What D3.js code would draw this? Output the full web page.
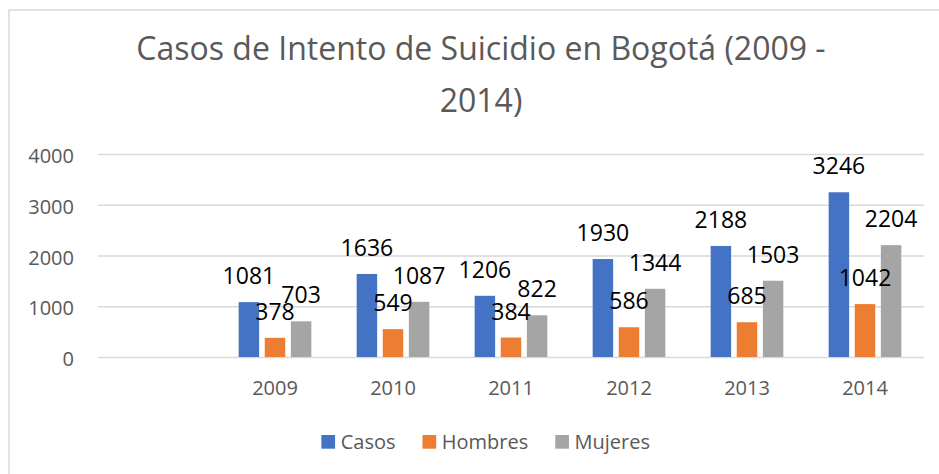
<!DOCTYPE html>
<html>
<head>
<meta charset="utf-8">
<script src="https://cdn.jsdelivr.net/npm/d3@7"></script>
<style>
  body { margin: 0; background: #fff; }
  text { font-family: "Open Sans", sans-serif; }
</style>
</head>
<body>
<div id="chart"></div>
<script>
// data
const years = ["", "2009", "2010", "2011", "2012", "2013", "2014"];
const seriesNames = ["Casos", "Hombres", "Mujeres"];
const casos = [null, 1081, 1636, 1206, 1930, 2188, 3246];
const hombres = [null, 378, 549, 384, 586, 685, 1042];
const mujeres = [null, 703, 1087, 822, 1344, 1503, 2204];
const yTicks = [0, 1000, 2000, 3000, 4000];
const titleLines = ["Casos de Intento de Suicidio en Bogotá (2009 -", "2014)"];

const colors = ["#4472C4", "#ED7D31", "#A5A5A5"];
const seriesValues = [casos, hombres, mujeres];

const width = 939, height = 474;
const plot = { left: 98, right: 924, top: 154, bottom: 357 };

const svg = d3.select("#chart").append("svg")
  .attr("width", width)
  .attr("height", height);

svg.append("rect")
  .attr("width", width).attr("height", height)
  .attr("fill", "#fff");

// chart frame (right and bottom edges fall outside the crop)
svg.append("rect")
  .attr("x", 9).attr("y", 10)
  .attr("width", 980).attr("height", 520)
  .attr("fill", "none")
  .attr("stroke", "#d9d9d9")
  .attr("stroke-width", 1.5);

// title
const title = svg.append("text")
  .attr("text-anchor", "middle")
  .attr("fill", "#595959")
  .style("font-size", "32px");
title.selectAll("tspan")
  .data(titleLines)
  .enter().append("tspan")
  .attr("x", 481)
  .attr("y", (d, i) => 60 + i * 51.5)
  .text(d => d);

const x = d3.scaleBand()
  .domain(years)
  .range([plot.left, plot.right])
  .paddingInner(0.384)
  .paddingOuter(0.192);

const xSeries = d3.scaleBand()
  .domain(seriesNames)
  .range([0, x.bandwidth()])
  .paddingInner(0.215);

const y = d3.scaleLinear()
  .domain([0, 4000])
  .range([plot.bottom, plot.top]);

// y axis with gridlines
const yAxis = svg.append("g")
  .attr("transform", "translate(" + plot.left + ",0)")
  .call(d3.axisLeft(y)
    .tickValues(yTicks)
    .tickSize(-(plot.right - plot.left))
    .tickPadding(24)
    .tickFormat(d3.format("d")));
yAxis.select(".domain").remove();
yAxis.selectAll("line")
  .attr("stroke", "#d9d9d9")
  .attr("stroke-width", 1.5);
yAxis.selectAll("text")
  .attr("fill", "#595959")
  .attr("dy", "0.43em")
  .style("font-size", "20px")
  .style("font-family", "'Open Sans', sans-serif");

// x axis labels
const xAxis = svg.append("g")
  .attr("transform", "translate(0," + plot.bottom + ")")
  .call(d3.axisBottom(x).tickSize(0).tickPadding(24));
xAxis.select(".domain").remove();
xAxis.selectAll("text")
  .attr("fill", "#595959")
  .style("font-size", "20px")
  .style("font-family", "'Open Sans', sans-serif");

// bars
const rows = [];
seriesNames.forEach((s, si) => {
  years.forEach((yr, i) => {
    const v = seriesValues[si][i];
    if (v != null) rows.push({ year: yr, series: s, si: si, value: v });
  });
});

svg.append("g")
  .selectAll("rect")
  .data(rows)
  .enter().append("rect")
  .attr("x", d => x(d.year) + xSeries(d.series))
  .attr("y", d => y(d.value))
  .attr("width", xSeries.bandwidth())
  .attr("height", d => y(0) - y(d.value))
  .attr("fill", d => colors[d.si]);

// data labels
svg.append("g")
  .selectAll("text")
  .data(rows)
  .enter().append("text")
  .attr("x", d => x(d.year) + xSeries(d.series) + xSeries.bandwidth() / 2)
  .attr("y", d => y(d.value) - 18)
  .attr("text-anchor", "middle")
  .attr("fill", "#000")
  .style("font-size", "23px")
  .text(d => d.value);

// legend
const legend = svg.append("g");
const items = legend.selectAll("g")
  .data(seriesNames)
  .enter().append("g");
items.append("rect")
  .attr("y", 435)
  .attr("width", 13.7).attr("height", 13.7)
  .attr("fill", (d, i) => colors[i]);
items.append("text")
  .attr("x", 19.3)
  .attr("y", 449)
  .attr("fill", "#595959")
  .style("font-size", "20px")
  .text(d => d);

let cursor = 0;
items.each(function () {
  const g = d3.select(this);
  g.attr("transform", "translate(" + cursor + ",0)");
  cursor += 19.3 + g.select("text").node().getComputedTextLength() + 27;
});
const legendWidth = cursor - 27;
legend.attr("transform", "translate(" + (485.7 - legendWidth / 2) + ",0)");
</script>
</body>
</html>
